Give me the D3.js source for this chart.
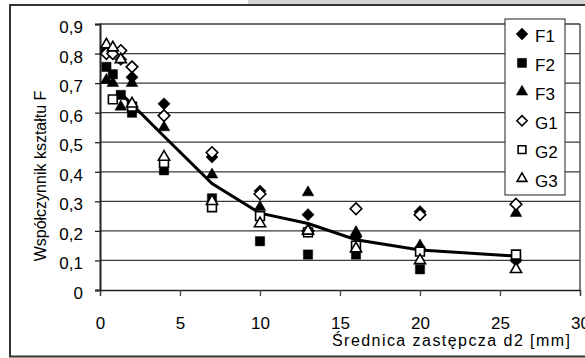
<!DOCTYPE html>
<html>
<head>
<meta charset="utf-8">
<script src="https://cdn.jsdelivr.net/npm/d3@7"></script>
<style>
  body { margin: 0; background: #fff; }
  text { font-family: "Liberation Sans", Arial, sans-serif; fill: #000; }
</style>
</head>
<body>
<div id="chart"></div>
<script>
// średnica zastępcza d2 [mm]
const diam = [0.4, 0.8, 1.3, 2, 4, 7, 10, 13, 16, 20, 26];

// series values (null = not visible)
const F1 = [0.81, 0.80, 0.78, 0.72, 0.63, 0.45, 0.335, 0.255, 0.18, 0.265, 0.10];
const F2 = [0.755, 0.73, 0.66, 0.60, 0.405, 0.31, 0.165, 0.12, 0.12, 0.07, 0.11];
const F3 = [0.71, 0.70, 0.62, 0.70, 0.55, 0.39, 0.28, 0.33, 0.195, 0.15, 0.26];
const G1 = [0.80, 0.80, 0.81, 0.755, 0.59, 0.465, 0.325, 0.20, 0.275, 0.255, 0.29];
const G2 = [null, 0.645, null, 0.62, 0.43, 0.28, 0.25, 0.195, 0.15, 0.13, 0.12];
const G3 = [0.83, 0.82, 0.78, 0.63, 0.45, 0.30, 0.225, 0.20, 0.14, 0.10, 0.07];

// mean curve
const lineD = [1.4, 4, 7, 10, 13, 16, 20, 26];
const lineF = [0.66, 0.52, 0.36, 0.26, 0.225, 0.17, 0.135, 0.115];

const xTicks = [0, 5, 10, 15, 20, 25, 30];
const yTicks = [0, 0.1, 0.2, 0.3, 0.4, 0.5, 0.6, 0.7, 0.8, 0.9];

const seriesNames = ["F1", "F2", "F3", "G1", "G2", "G3"];
const seriesVals = [F1, F2, F3, G1, G2, G3];

const W = 585, H = 358;
const svg = d3.select("#chart").append("svg")
    .attr("width", W)
    .attr("height", H);

// outer frame
svg.append("rect").attr("x", 248).attr("y", 0).attr("width", W - 248).attr("height", 5).attr("fill", "#d4d4d4");
svg.append("rect")
    .attr("x", 10).attr("y", 5)
    .attr("width", W + 10).attr("height", 351.5)
    .attr("fill", "none")
    .attr("stroke", "#333")
    .attr("stroke-width", 2);

const x = d3.scaleLinear().domain([0, 30]).range([100, 580]);
const y = d3.scaleLinear().domain([0, 0.9]).range([290, 24]);

// gridlines
svg.append("g")
    .selectAll("line")
    .data(yTicks.filter(t => t > 0))
    .enter().append("line")
    .attr("x1", x(0)).attr("x2", x(30))
    .attr("y1", d => y(d)).attr("y2", d => y(d))
    .attr("stroke", "#3a3a3a")
    .attr("stroke-width", 1.3);

// right border
svg.append("line")
    .attr("x1", x(30)).attr("x2", x(30))
    .attr("y1", y(0.9)).attr("y2", y(0))
    .attr("stroke", "#3a3a3a").attr("stroke-width", 1.3);

// axes
const yAxis = svg.append("g")
    .attr("transform", `translate(${x(0)},0)`)
    .call(d3.axisLeft(y).tickValues(yTicks).tickSize(5).tickPadding(12)
        .tickFormat(d => d === 0 ? "0" : d3.format(".1f")(d).replace(".", ",")));
yAxis.select(".domain").attr("stroke", "#222").attr("stroke-width", 2);
yAxis.selectAll(".tick line").attr("stroke", "#222").attr("stroke-width", 1.3);
yAxis.selectAll(".tick text").attr("font-size", 17).attr("dy", "0.5em");

const xAxis = svg.append("g")
    .attr("transform", `translate(0,${y(0)})`)
    .call(d3.axisBottom(x).tickValues(xTicks).tickSize(6).tickPadding(21));
xAxis.select(".domain").attr("stroke", "#222").attr("stroke-width", 1.3);
xAxis.selectAll(".tick line").attr("stroke", "#444").attr("stroke-width", 1.3);
xAxis.selectAll(".tick text").attr("font-size", 17);

// axis titles
svg.append("text")
    .attr("transform", "translate(46,176) rotate(-90)")
    .attr("text-anchor", "middle")
    .attr("font-size", 16)
    .text("Współczynnik kształtu F");

svg.append("text")
    .attr("x", 332).attr("y", 346)
    .attr("font-size", 16)
    .attr("textLength", 238)
    .attr("lengthAdjust", "spacing")
    .text("Średnica zastępcza d2 [mm]");

// marker shapes (k = scale factor)
function markerPath(name, k) {
    const t = name[1];
    if (t === "1") return d3.symbol().type(d3.symbolDiamond2).size(95 * k)();
    if (t === "2") return d3.symbol().type(d3.symbolSquare2).size(110 * k)();
    return d3.symbol().type(d3.symbolTriangle2).size(98 * k)();
}
function styleMarker(sel, name) {
    const filled = name[0] === "F";
    sel.attr("fill", filled ? "#000" : "#fff")
        .attr("stroke", "#000")
        .attr("stroke-width", filled ? 0.5 : 1.6);
}

// mean curve
const line = d3.line().x(d => x(d[0])).y(d => y(d[1]));
svg.append("path")
    .datum(lineD.map((d, i) => [d, lineF[i]]))
    .attr("d", line)
    .attr("fill", "none")
    .attr("stroke", "#000")
    .attr("stroke-width", 3);

// points
seriesNames.forEach((name, si) => {
    const pts = diam.map((d, i) => [d, seriesVals[si][i]]).filter(p => p[1] != null);
    const g = svg.append("g");
    g.selectAll("path")
        .data(pts)
        .enter().append("path")
        .attr("transform", p => `translate(${x(p[0])},${y(p[1])})`)
        .attr("d", markerPath(name, name[0] === "F" ? 1 : 0.9))
        .call(styleMarker, name);
});

// legend
const legend = svg.append("g");
legend.append("rect")
    .attr("x", 505).attr("y", 19)
    .attr("width", 60).attr("height", 176)
    .attr("fill", "#fff")
    .attr("stroke", "#444")
    .attr("stroke-width", 1.2);
seriesNames.forEach((name, i) => {
    const cy = 34 + i * 28.9;
    legend.append("path")
        .attr("transform", `translate(522,${cy})`)
        .attr("d", markerPath(name, name[0] === "F" ? 0.95 : 0.7))
        .call(styleMarker, name);
    legend.append("text")
        .attr("x", 535).attr("y", cy + 8)
        .attr("font-size", 17)
        .text(name);
});
</script>
</body>
</html>
